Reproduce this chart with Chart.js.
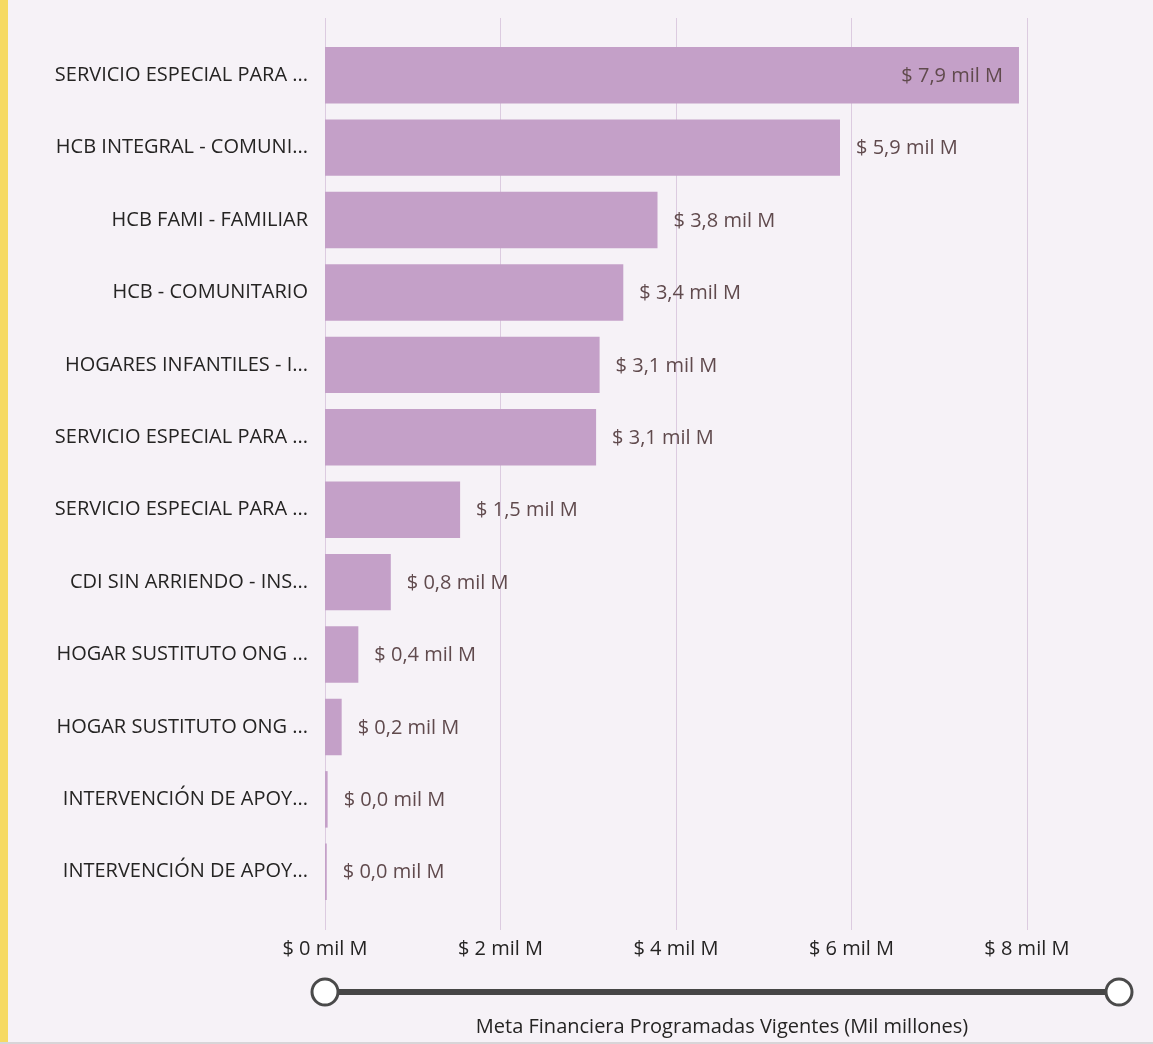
<!DOCTYPE html>
<html>
<head>
<meta charset="utf-8">
<script src="https://cdn.jsdelivr.net/npm/chart.js@4"></script>
<style>
  html, body { margin: 0; padding: 0; background: #f6f2f7; }
  #wrap { position: relative; width: 1153px; height: 1044px; overflow: hidden; }
  #strip { position: absolute; left: 0; top: 0; width: 8px; height: 1044px; background: #f6da62; }
  #bottomLine { position: absolute; left: 0; bottom: 0; width: 1153px; height: 2px; background: #d8d5d8; }
  canvas { position: absolute; left: 0; top: 0; }
</style>
</head>
<body>
<div id="wrap">
  <canvas id="chart" width="1153" height="1044"></canvas>
  <div id="strip"></div>
  <div id="bottomLine"></div>
</div>
<script>
// categorías (tal como aparecen, truncadas)
const categories = [
  'SERVICIO ESPECIAL PARA ...',
  'HCB INTEGRAL - COMUNI...',
  'HCB FAMI - FAMILIAR',
  'HCB - COMUNITARIO',
  'HOGARES INFANTILES - I...',
  'SERVICIO ESPECIAL PARA ...',
  'SERVICIO ESPECIAL PARA ...',
  'CDI SIN ARRIENDO - INS...',
  'HOGAR SUSTITUTO ONG ...',
  'HOGAR SUSTITUTO ONG ...',
  'INTERVENCIÓN DE APOY...',
  'INTERVENCIÓN DE APOY...'
];
// valores en mil millones
const values = [7.91, 5.87, 3.79, 3.40, 3.13, 3.09, 1.54, 0.75, 0.38, 0.19, 0.03, 0.02];
const xTicks = [0, 2, 4, 6, 8];
const xMax = 9.05;
const axisTitle = 'Meta Financiera Programadas Vigentes (Mil millones)';

const FONT = '"Segoe UI", "Open Sans", sans-serif';

function fmtLabel(v) {
  return '$ ' + v.toFixed(1).replace('.', ',') + ' mil M';
}

// líneas de cuadrícula verticales (más largas que el área)
const gridPlugin = {
  id: 'gridLines',
  beforeDatasetsDraw(chart) {
    const ctx = chart.ctx;
    const x = chart.scales.x;
    ctx.save();
    ctx.strokeStyle = '#dccbe0';
    ctx.lineWidth = 1;
    xTicks.forEach(t => {
      const px = Math.round(x.getPixelForValue(t)) + 0.5;
      ctx.beginPath();
      ctx.moveTo(px, 18);
      ctx.lineTo(px, 930);
      ctx.stroke();
    });
    ctx.restore();
  }
};

// etiquetas de datos
const labelPlugin = {
  id: 'dataLabels',
  afterDatasetsDraw(chart) {
    const ctx = chart.ctx;
    const meta = chart.getDatasetMeta(0);
    const area = chart.chartArea;
    ctx.save();
    ctx.font = '20px ' + FONT;
    ctx.fillStyle = '#604a4d';
    ctx.textBaseline = 'middle';
    meta.data.forEach((bar, i) => {
      const txt = fmtLabel(values[i]);
      const w = ctx.measureText(txt).width;
      if (bar.x + 16 + w > area.right) {
        ctx.textAlign = 'right';
        ctx.fillText(txt, bar.x - 16, bar.y + 1);
      } else {
        ctx.textAlign = 'left';
        ctx.fillText(txt, bar.x + 16, bar.y + 1);
      }
    });
    ctx.restore();
  }
};

// control deslizante bajo el eje
const sliderPlugin = {
  id: 'slider',
  afterDraw(chart) {
    const ctx = chart.ctx;
    const x0 = chart.scales.x.getPixelForValue(0);
    const x1 = chart.scales.x.getPixelForValue(xMax);
    const y = 992;
    ctx.save();
    ctx.strokeStyle = '#464646';
    ctx.lineWidth = 6;
    ctx.beginPath();
    ctx.moveTo(x0, y);
    ctx.lineTo(x1, y);
    ctx.stroke();
    [x0, x1].forEach(cx => {
      ctx.beginPath();
      ctx.arc(cx, y, 13, 0, Math.PI * 2);
      ctx.fillStyle = '#ffffff';
      ctx.fill();
      ctx.lineWidth = 3;
      ctx.strokeStyle = '#4a4a4a';
      ctx.stroke();
    });
    ctx.restore();
  }
};

new Chart(document.getElementById('chart'), {
  type: 'bar',
  data: {
    labels: categories,
    datasets: [{
      data: values,
      backgroundColor: '#c4a0c8',
      borderWidth: 0,
      categoryPercentage: 1,
      barPercentage: 0.78
    }]
  },
  options: {
    indexAxis: 'y',
    responsive: false,
    animation: false,
    layout: { padding: { top: 39, right: 34, bottom: 0, left: 0 } },
    plugins: {
      legend: { display: false },
      tooltip: { enabled: false }
    },
    scales: {
      x: {
        min: 0,
        max: xMax,
        afterBuildTicks(scale) { scale.ticks = xTicks.map(v => ({ value: v })); },
        grid: { display: false },
        border: { display: false },
        ticks: {
          padding: 21,
          color: '#252423',
          font: { family: FONT, size: 20 },
          callback: v => '$ ' + v + ' mil M'
        },
        title: {
          display: true,
          text: axisTitle,
          color: '#252423',
          font: { family: FONT, size: 20 },
          padding: { top: 0, bottom: 5 }
        },
        afterFit(scale) { scale.height = 1044 - 908; }
      },
      y: {
        grid: { display: false, drawTicks: false },
        border: { display: false },
        ticks: {
          padding: 17,
          color: '#252423',
          font: { family: FONT, size: 20 }
        },
        afterFit(scale) { scale.width = 325; }
      }
    }
  },
  plugins: [gridPlugin, labelPlugin, sliderPlugin]
});
</script>
</body>
</html>
